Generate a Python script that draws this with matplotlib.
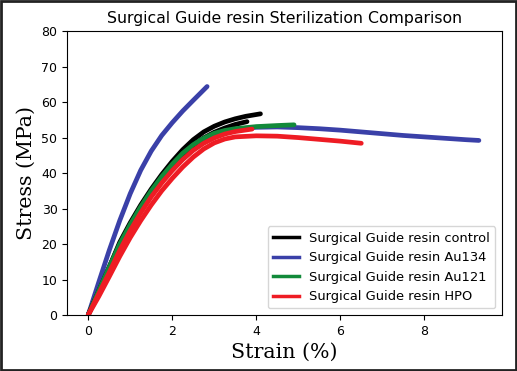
import matplotlib
matplotlib.use('Agg')
import matplotlib.pyplot as plt
from matplotlib.patches import Rectangle

# 各试样的应力-应变曲线 (应变 %, 应力 MPa)
control_1_x = [0, 0.25, 0.5, 0.75, 1, 1.25, 1.5, 1.75, 2, 2.25, 2.5, 2.75, 3, 3.25, 3.5, 3.75, 4.1]
control_1_y = [0, 6.8, 13.5, 20.5, 26, 31, 35.5, 39.6, 43.3, 46.6, 49.4, 51.6, 53.2, 54.4, 55.3, 56, 56.7]
control_2_x = [0, 0.25, 0.5, 0.75, 1, 1.25, 1.5, 1.75, 2, 2.25, 2.5, 2.75, 3, 3.25, 3.5, 3.78]
control_2_y = [0, 6.5, 13, 19.5, 25, 30, 34.5, 38.5, 42, 45.2, 47.8, 49.9, 51.5, 52.7, 53.7, 54.5]

au134_1_x = [0, 0.25, 0.5, 0.75, 1, 1.25, 1.5, 1.75, 2, 2.25, 2.5, 2.83]
au134_1_y = [0, 9.2, 18.2, 26.6, 34.2, 40.8, 46.2, 50.6, 54.2, 57.5, 60.5, 64.4]
au134_2_x = [0, 0.25, 0.5, 0.75, 1, 1.25, 1.5, 1.75, 2, 2.25, 2.5, 2.75, 3, 3.25, 3.5,
             4, 4.5, 5, 5.5, 6, 6.5, 7, 7.5, 8, 8.5, 9, 9.3]
au134_2_y = [0, 7, 13.5, 20, 25.5, 30.5, 35, 39, 42.5, 45.5, 47.8, 49.6, 51, 51.8, 52.4,
             52.9, 53, 52.8, 52.5, 52.1, 51.6, 51.1, 50.6, 50.2, 49.8, 49.4, 49.2]

au121_x = [0, 0.25, 0.5, 0.75, 1, 1.25, 1.5, 1.75, 2, 2.25, 2.5, 2.75, 3, 3.25, 3.5, 4, 4.5, 4.9]
au121_y = [0, 6.8, 13.5, 20, 25.5, 30.5, 35, 39, 42.5, 45.6, 48, 49.8, 51.2, 52, 52.5, 53.1, 53.4, 53.6]

hpo_1_x = [0, 0.25, 0.5, 0.75, 1, 1.25, 1.5, 1.75, 2, 2.25, 2.5, 2.75, 3, 3.25, 3.5,
           4, 4.5, 5, 5.5, 6, 6.5]
hpo_1_y = [0, 5.2, 10.8, 16.5, 21.8, 26.6, 31, 35, 38.5, 41.7, 44.5, 46.8, 48.5, 49.6, 50.2,
           50.5, 50.4, 50, 49.5, 49, 48.4]
hpo_2_x = [0, 0.25, 0.5, 0.75, 1, 1.25, 1.5, 1.75, 2, 2.25, 2.5, 2.75, 3, 3.25, 3.5, 3.9]
hpo_2_y = [0, 6, 12, 18.2, 23.8, 28.8, 33.3, 37.2, 40.7, 43.8, 46.4, 48.4, 49.9, 51, 51.7, 52.4]

labels = ['Surgical Guide resin control', 'Surgical Guide resin Au134',
          'Surgical Guide resin Au121', 'Surgical Guide resin HPO']
colors = ['#000000', '#3a40a8', '#128a3a', '#ee1c24']

fig = plt.figure(figsize=(5.17, 3.71), dpi=100)
ax = fig.add_axes([0.130, 0.151, 0.841, 0.765])

lw = 3.4
# 蓝色
ax.plot(au134_1_x, au134_1_y, color=colors[1], lw=lw, solid_capstyle='round')
ax.plot(au134_2_x, au134_2_y, color=colors[1], lw=lw, solid_capstyle='round')
# 黑色
ax.plot(control_1_x, control_1_y, color=colors[0], lw=lw, solid_capstyle='round')
ax.plot(control_2_x, control_2_y, color=colors[0], lw=lw, solid_capstyle='round')
# 绿色
ax.plot(au121_x, au121_y, color=colors[2], lw=lw, solid_capstyle='round')
# 红色
ax.plot(hpo_1_x, hpo_1_y, color=colors[3], lw=lw, solid_capstyle='round')
ax.plot(hpo_2_x, hpo_2_y, color=colors[3], lw=lw, solid_capstyle='round')

# 图例
handles = [plt.Line2D([], [], color=c, lw=2.5) for c in colors]
ax.legend(handles, labels, loc='lower right', fontsize=9.4)

ax.set_ylim(0, 80)
ax.set_xlim(-0.5, 9.85)
ax.set_xticks([0, 2, 4, 6, 8])
ax.set_yticks(range(0, 81, 10))
ax.tick_params(labelsize=9)
ax.set_title('Surgical Guide resin Sterilization Comparison', fontsize=11.3)
ax.set_xlabel('Strain (%)', family='DejaVu Serif', fontsize=14.8)
ax.set_ylabel('Stress (MPa)', family='DejaVu Serif', fontsize=14.8)

# 外边框
fig.patches.append(Rectangle((0.002, 0.003), 0.996, 0.994, transform=fig.transFigure,
                             fill=False, edgecolor='#222222', lw=2))

fig.savefig('out.png', dpi=100)
